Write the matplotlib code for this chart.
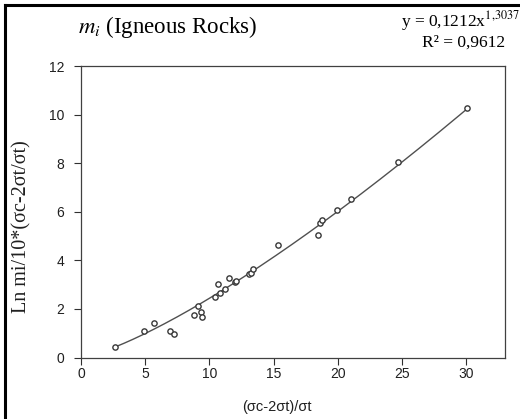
import numpy as np
import matplotlib
matplotlib.use("Agg")
import matplotlib.pyplot as plt
from matplotlib.lines import Line2D

plt.rcParams['font.family'] = ['Liberation Sans', 'DejaVu Sans']
plt.rcParams['mathtext.fontset'] = 'stix'

# measured points: (sc-2st)/st against Ln mi/10*(...)
ratio = [2.65, 4.93, 5.68, 6.95, 7.24, 8.77, 9.13, 9.32, 9.42, 10.43,
         10.68, 10.79, 11.18, 11.54, 12.01, 12.05, 13.05, 13.23, 13.41,
         15.33, 18.44, 18.57, 18.78, 19.92, 21.01, 24.65, 30.02]
ln_mi = [0.42, 1.11, 1.42, 1.11, 0.96, 1.74, 2.11, 1.88, 1.68, 2.51,
         3.02, 2.65, 2.84, 3.29, 3.11, 3.13, 3.43, 3.48, 3.63,
         4.62, 5.03, 5.53, 5.68, 6.07, 6.54, 8.04, 10.27]

# power trendline y = a * x^b
coef_a = 0.1212
coef_b = 1.3037
r2 = 0.9612

xticks = [0, 5, 10, 15, 20, 25, 30]
yticks = [0, 2, 4, 6, 8, 10, 12]

fig = plt.figure(figsize=(5.2, 4.19), dpi=100)
ax = fig.add_axes([81/520, 61.5/419, 424/520, 291.5/419])

xs = np.linspace(min(ratio), max(ratio), 200)
ax.plot(xs, coef_a * xs ** coef_b, color='#505050', lw=1.0, zorder=2)
ax.plot(ratio, ln_mi, 'o', ms=3.8, mfc='white', mec='#383838', mew=1.0, zorder=3)

ax.set_xlim(0, 33)
ax.set_ylim(0, 12)
ax.set_xticks(xticks)
ax.set_yticks(yticks)
ax.tick_params(direction='out', length=5, width=0.8, colors='#303030',
               labelsize=10, labelcolor='#202020')
ax.tick_params(axis='x', pad=2)
ax.tick_params(axis='y', pad=7)
for s in ax.spines.values():
    s.set_color('#404040')
    s.set_linewidth(0.9)

ax.set_xlabel('(σc-2σt)/σt', fontsize=10.5, color='#202020')
ax.xaxis.set_label_coords(196/424, -42.5/291.5)
ax.set_ylabel('Ln mi/10*(σc-2σt/σt)', fontsize=14.5, family='Liberation Serif',
              color='#202020')
ax.yaxis.set_label_coords(-50/424, 130.5/291.5)

serif = 'Liberation Serif'
fig.text(78/520, 1 - 27/419, r'$m_i$ (Igneous Rocks)', fontsize=16.5,
         family=serif, va='center', ha='left')
eq = 'y = %sx$^{\\mathrm{%s}}$' % (str(coef_a).replace('.', ','),
                                   str(coef_b).replace('.', '{,}'))
fig.text(401/520, 1 - 21/419, eq, fontsize=12.5, family=serif,
         va='center', ha='left')
fig.text(505/520, 1 - 43/419, 'R² = ' + str(r2).replace('.', ','),
         fontsize=12.5, family=serif, va='center', ha='right')

# outer chart frame (top and left edges)
fig.add_artist(Line2D([5/520, 5/520], [0, 1 - 5/419], transform=fig.transFigure,
                      color='black', lw=2.2))
fig.add_artist(Line2D([5/520, 1], [1 - 5/419, 1 - 5/419], transform=fig.transFigure,
                      color='black', lw=2.2))

fig.savefig('out.png', dpi=100)
